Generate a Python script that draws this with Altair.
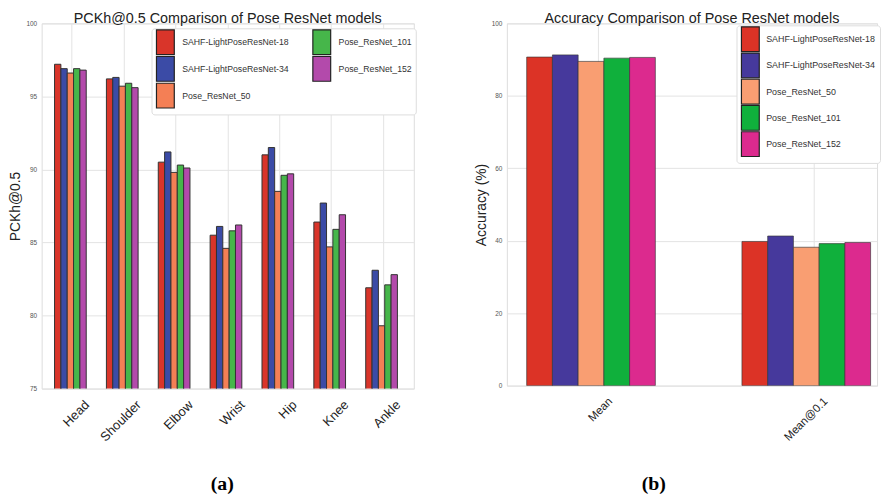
import altair as alt
import pandas as pd

joints = ["Head", "Shoulder", "Elbow", "Wrist", "Hip", "Knee", "Ankle"]
models = ["SAHF-LightPoseResNet-18", "SAHF-LightPoseResNet-34",
          "Pose_ResNet_50", "Pose_ResNet_101", "Pose_ResNet_152"]

pckh_18 = [97.2, 96.2, 90.5, 85.5, 91.0, 86.4, 81.9]
pckh_34 = [96.9, 96.3, 91.2, 86.1, 91.5, 87.7, 83.1]
pckh_50 = [96.6, 95.7, 89.8, 84.6, 88.5, 84.7, 79.3]
pckh_101 = [96.9, 95.9, 90.3, 85.8, 89.6, 85.9, 82.1]
pckh_152 = [96.8, 95.6, 90.1, 86.2, 89.7, 86.9, 82.8]

metrics = ["Mean", "Mean@0.1"]
acc_18 = [90.7, 39.8]
acc_34 = [91.3, 41.3]
acc_50 = [89.5, 38.2]
acc_101 = [90.4, 39.2]
acc_152 = [90.6, 39.5]

left_colors = ["#d9352a", "#3b4ba6", "#f47f55", "#46b64a", "#b34aab"]
right_colors = ["#dc3326", "#46399c", "#f99e72", "#10b03c", "#dc2a8e"]


def build(cats, series, catname):
    rows = []
    for m, vals in zip(models, series):
        for c, v in zip(cats, vals):
            rows.append({catname: c, "model": m, "value": v})
    return pd.DataFrame(rows)


df_left = build(joints, [pckh_18, pckh_34, pckh_50, pckh_101, pckh_152], "joint")
df_right = build(metrics, [acc_18, acc_34, acc_50, acc_101, acc_152], "metric")

FONT = "Liberation Sans"
SYMBOL = "M-1,-1.39H1V1.39H-1Z"
NB = "\u00a0"

# rotated labels: bounding box centred on the tick, as in the original
left_label_expr = (
    "datum.value + (datum.value == 'Shoulder' ? '' : datum.value == 'Hip' ? '"
    + NB * 3 + "' : '" + NB * 2 + "')"
)
right_label_expr = "datum.value + (datum.value == 'Mean' ? '" + NB * 3 + "' : '')"


def yaxis(values, title):
    return alt.Axis(
        values=values, title=title,
        titleFont=FONT, titleFontSize=14, titleFontWeight="normal",
        titleColor="#222222", titlePadding=1, minExtent=18,
        labelFontSize=6.5, labelColor="#555555", labelFont=FONT,
        labelPadding=5, ticks=False, tickSize=0, domain=False,
        gridColor="#e3e3e3",
    )


def xaxis(caption, cx, cy, fsize, bandpos, offset, expr):
    return alt.Axis(
        title=caption, titleFont="Liberation Serif", titleFontSize=20,
        titleFontWeight="bold", titleColor="black", titleX=cx, titleY=cy,
        titleAlign="center", titleBaseline="middle",
        labelAngle=-45, labelAlign="right", labelBaseline="middle",
        labelFontSize=fsize, labelColor="#222222", labelFont=FONT,
        labelPadding=14, ticks=False, tickSize=0, domain=False, grid=True,
        gridColor="#e3e3e3", bandPosition=bandpos, labelOffset=offset,
        labelExpr=expr,
    )


def legend(x, y, cols, fsize, loff, rowpad):
    kw = dict(
        title=None, orient="none", legendX=x, legendY=y,
        symbolType=SYMBOL, symbolSize=324, symbolStrokeColor="#222222",
        symbolStrokeWidth=1.2, symbolOpacity=1,
        labelFont=FONT, labelFontSize=fsize, labelColor="#333333",
        labelOffset=loff, rowPadding=rowpad, padding=4,
        fillColor="white", strokeColor="#dddddd", cornerRadius=3,
        labelLimit=0,
    )
    if cols > 1:
        kw.update(columns=cols, columnPadding=21)
    return alt.Legend(**kw)


left = alt.Chart(df_left).mark_bar(
    clip=True, stroke="#333333", strokeWidth=1
).encode(
    x=alt.X(
        "joint:N", sort=joints,
        scale=alt.Scale(paddingInner=0.389, paddingOuter=0.2825, align=0.44),
        axis=xaxis("(a)", 182, 96, 13, 0.557, 17, left_label_expr),
    ),
    y=alt.Y(
        "value:Q",
        scale=alt.Scale(domain=[75, 100], nice=False, zero=False),
        axis=yaxis([75, 80, 85, 90, 95, 100], "PCKh@0.5"),
    ),
    xOffset=alt.XOffset("model:N", sort=models,
                        scale=alt.Scale(paddingInner=0, paddingOuter=0)),
    color=alt.Color(
        "model:N",
        scale=alt.Scale(domain=models, range=left_colors),
        legend=legend(111, 5, 2, 8.8, 7, -3),
    ),
).properties(
    width=376, height=369,
    title=alt.TitleParams("PCKh@0.5 Comparison of Pose ResNet models",
                          font=FONT, fontSize=14.5, fontWeight="normal",
                          color="#222222", offset=-6),
)

right = alt.Chart(df_right).mark_bar(
    clip=True, stroke="#333333", strokeWidth=0.8, strokeOpacity=0.8
).encode(
    x=alt.X(
        "metric:N", sort=metrics,
        scale=alt.Scale(paddingInner=0.4023, paddingOuter=0.061, align=0.755),
        axis=xaxis("(b)", 148, 99, 11.5, 0.56, 20, right_label_expr),
    ),
    y=alt.Y(
        "value:Q",
        scale=alt.Scale(domain=[0, 100], nice=False),
        axis=yaxis([0, 20, 40, 60, 80, 100], "Accuracy (%)"),
    ),
    xOffset=alt.XOffset("model:N", sort=models,
                        scale=alt.Scale(paddingInner=0, paddingOuter=0)),
    color=alt.Color(
        "model:N",
        scale=alt.Scale(domain=models, range=right_colors),
        legend=legend(232, 2, 1, 9, 6, -3.5),
    ),
).properties(
    width=374, height=366,
    title=alt.TitleParams("Accuracy Comparison of Pose ResNet models",
                          font=FONT, fontSize=14.5, fontWeight="normal",
                          color="#222222", offset=-6),
)

chart = alt.hconcat(left, right, spacing=57, padding=0).resolve_scale(
    color="independent", xOffset="independent"
).resolve_legend(color="independent").configure_view(
    stroke="#dddddd"
).configure(background="white")

chart.save("out.html", embed_options={"renderer": "svg", "actions": False})
